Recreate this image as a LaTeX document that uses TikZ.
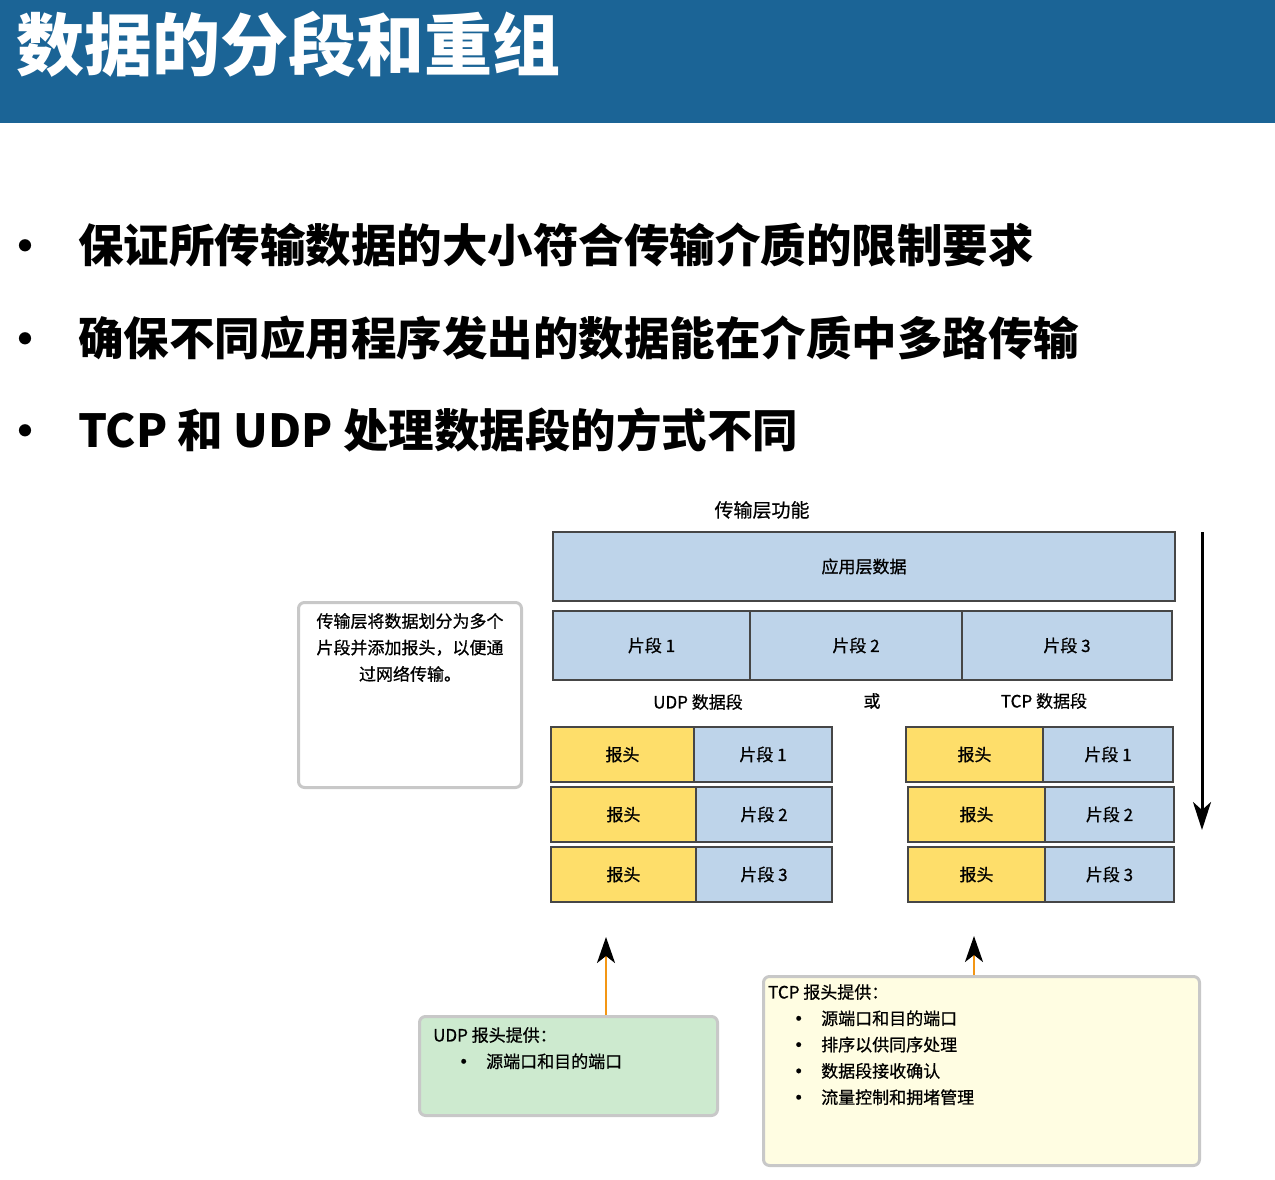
\documentclass[tikz,border=0pt]{standalone}
\usepackage{fontspec}
\setmainfont{Noto Sans CJK SC}
\newfontfamily\diagfont{Noto Sans CJK SC}[FakeBold=0.7]
\usetikzlibrary{arrows.meta}
\definecolor{barblue}{RGB}{27,100,150}
\definecolor{segblue}{RGB}{190,212,234}
\definecolor{hdryellow}{RGB}{254,222,106}
\definecolor{edgegray}{RGB}{70,70,70}
\definecolor{notegray}{RGB}{200,200,200}
\definecolor{udpgreen}{RGB}{205,234,207}
\definecolor{tcpyellow}{RGB}{255,253,226}
\definecolor{arroworange}{RGB}{243,150,20}
\tikzset{
  cell/.style={draw=edgegray, line width=1.2pt, inner sep=0pt, outer sep=0pt,
    anchor=north west, font=\diagfont\fontsize{17}{20}\selectfont},
  seg/.style={cell, fill=segblue},
  hdr/.style={cell, fill=hdryellow},
  note/.style={draw=notegray, line width=3pt, rounded corners=6pt, inner sep=0pt,
    anchor=north west},
  lbl/.style={inner sep=0pt, font=\diagfont\fontsize{17}{20}\selectfont},
  point/.style={inner sep=0pt, font=\fontsize{45.5}{45.5}\selectfont\bfseries, anchor=west},
  dot/.style={inner sep=0pt, font=\fontsize{44}{44}\selectfont\bfseries},
  upflow/.style={arroworange, line width=2.5pt,
    -{Stealth[black, length=26pt, width=18pt, inset=7pt]}},
}
\begin{document}
\begin{tikzpicture}[x=1pt, y=-1pt]
\useasboundingbox (0,0) rectangle (1275,1180);

% heading bar
\fill[barblue] (0,0) rectangle (1275,123);
\node[inner sep=0pt, anchor=west, text=white,
  font=\fontsize{68}{68}\selectfont\bfseries] (title) at (16,44) {数据的分段和重组};

% key points
\node[dot] (d1) at (26,251) {•};
\node[point] (p1) at (78,245) {保证所传输数据的大小符合传输介质的限制要求};
\node[dot] (d2) at (26,344) {•};
\node[point] (p2) at (78,338) {确保不同应用程序发出的数据能在介质中多路传输};
\node[dot] (d3) at (26,436) {•};
\node[point] (p3) at (78,430) {TCP 和 UDP 处理数据段的方式不同};

% transport layer diagram
\node[lbl, font=\diagfont\fontsize{19}{22}\selectfont] (func) at (762,510) {传输层功能};
\node[seg, minimum width=622pt, minimum height=69pt] (app) at (553,532) {应用层数据};
\node[seg, minimum width=197pt, minimum height=69pt] (s1) at (553,611) {片段 1};
\node[seg, minimum width=212pt, minimum height=69pt] (s2) at (750,611) {片段 2};
\node[seg, minimum width=210pt, minimum height=69pt] (s3) at (962,611) {片段 3};

\node[lbl] (udplbl) at (698,702) {UDP 数据段};
\node[lbl] (orlbl) at (872,701) {或};
\node[lbl] (tcplbl) at (1044,701) {TCP 数据段};

% UDP segments
\node[hdr, minimum width=143pt, minimum height=55pt] (u1h) at (551,727) {报头};
\node[seg, minimum width=138pt, minimum height=55pt] (u1d) at (694,727) {片段 1};
\node[hdr, minimum width=145pt, minimum height=55pt] (u2h) at (551,787) {报头};
\node[seg, minimum width=136pt, minimum height=55pt] (u2d) at (696,787) {片段 2};
\node[hdr, minimum width=145pt, minimum height=55pt] (u3h) at (551,847) {报头};
\node[seg, minimum width=136pt, minimum height=55pt] (u3d) at (696,847) {片段 3};

% TCP segments
\node[hdr, minimum width=137pt, minimum height=55pt] (t1h) at (906,727) {报头};
\node[seg, minimum width=130pt, minimum height=55pt] (t1d) at (1043,727) {片段 1};
\node[hdr, minimum width=137pt, minimum height=55pt] (t2h) at (908,787) {报头};
\node[seg, minimum width=129pt, minimum height=55pt] (t2d) at (1045,787) {片段 2};
\node[hdr, minimum width=137pt, minimum height=55pt] (t3h) at (908,847) {报头};
\node[seg, minimum width=129pt, minimum height=55pt] (t3d) at (1045,847) {片段 3};

% processing direction
\coordinate (flowtop) at (1202,532);
\coordinate (flowend) at (1202,830);
\draw[line width=3pt, -{Stealth[length=28pt, width=18pt, inset=8pt]}] (flowtop) -- (flowend);

% explanation note
\node[note, fill=white, minimum width=223pt, minimum height=185pt] (info) at (297,601) {};
\node[lbl, align=center, anchor=north, font=\diagfont\fontsize{17}{26.5}\selectfont]
  (infotext) at (410,613) {传输层将数据划分为多个\\片段并添加报头，以便通\\过网络传输。};

% UDP header note
\node[note, fill=udpgreen, minimum width=298pt, minimum height=99pt] (udpnote) at (418,1015) {};
\node[lbl, anchor=north west, align=left, font=\diagfont\fontsize{17}{26.3}\selectfont]
  (udptext) at (433,1027) {UDP 报头提供：\\\hspace*{22pt}\textbf{•}\hspace{14pt}源端口和目的端口};
\coordinate (udptip) at (606,937);
\draw[upflow] (udpnote.north -| udptip) -- (udptip);

% TCP header note
\node[note, fill=tcpyellow, minimum width=436pt, minimum height=189pt] (tcpnote) at (762,975) {};
\node[lbl, anchor=north west, align=left, font=\diagfont\fontsize{17}{26.3}\selectfont]
  (tcptext) at (768,984) {TCP 报头提供：\\
  \hspace*{22pt}\textbf{•}\hspace{14pt}源端口和目的端口\\
  \hspace*{22pt}\textbf{•}\hspace{14pt}排序以供同序处理\\
  \hspace*{22pt}\textbf{•}\hspace{14pt}数据段接收确认\\
  \hspace*{22pt}\textbf{•}\hspace{14pt}流量控制和拥堵管理};
\coordinate (tcptip) at (974,936);
\draw[upflow] (tcpnote.north -| tcptip) -- (tcptip);
\end{tikzpicture}
\end{document}
